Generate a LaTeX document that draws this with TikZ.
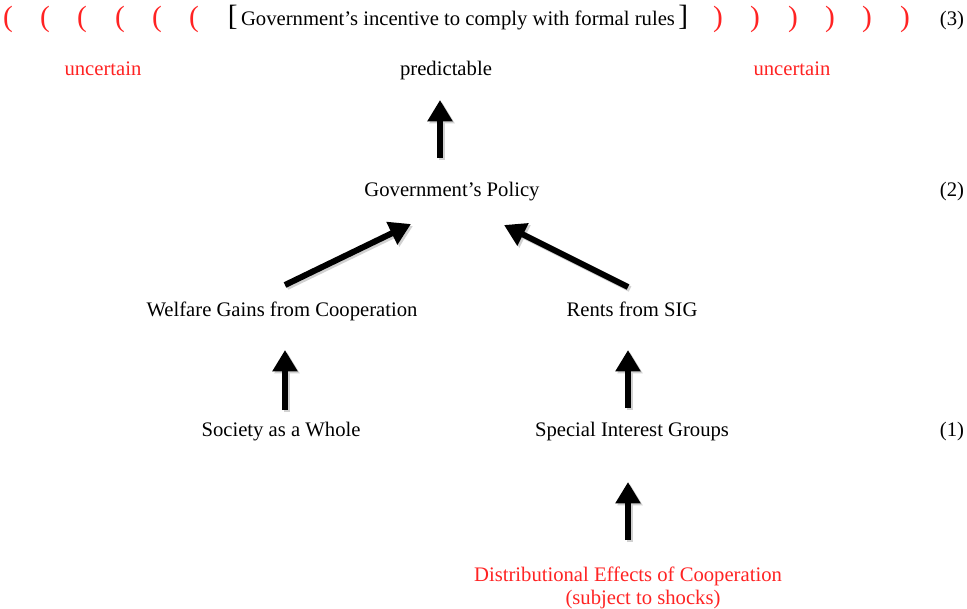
\documentclass[tikz,border=0pt]{standalone}
\usepackage{fontspec}
\setmainfont{Liberation Serif}
\usetikzlibrary{arrows.meta}
\definecolor{lblred}{RGB}{255,35,35}
\begin{document}
\begin{tikzpicture}[x=0.75pt,y=-0.75pt,
  lbl/.style={font=\fontsize{15.5}{18}\selectfont, inner sep=0pt, anchor=base},
  redlbl/.style={lbl, text=lblred},
  paren/.style={font=\fontsize{22}{24}\selectfont, text=lblred, inner sep=0pt, anchor=base},
  arr/.style={line width=4.5pt, -{Triangle[width=18pt,length=16pt]}},
  shade/.style={arr, draw=black!18, transform canvas={shift={(1.5pt,-1.5pt)}}}
]
\path[use as bounding box] (0,0) rectangle (967,608);

% top row
\foreach \i/\x in {1/8,2/45,3/82,4/120,5/157,6/194}
  \node[paren] (pl\i) at (\x,26) {(};
\foreach \i/\x in {1/718,2/755,3/793,4/830,5/867,6/905}
  \node[paren] (pr\i) at (\x,26) {)};
\node[lbl] (title) at (458,25) {{\fontsize{22}{24}\selectfont[}\,Government’s incentive to comply with formal rules\,{\fontsize{22}{24}\selectfont]}};
\node[lbl] (l3) at (952,25) {(3)};

\node[redlbl] (unl) at (103,75) {uncertain};
\node[lbl] (pred) at (446,75) {predictable};
\node[redlbl] (unr) at (792,75) {uncertain};

\node[lbl] (pol) at (452,196) {Government’s Policy};
\node[lbl] (l2) at (952,196) {(2)};

\node[lbl] (wel) at (282,316) {Welfare Gains from Cooperation};
\node[lbl] (rent) at (632,316) {Rents from SIG};

\node[lbl] (soc) at (281,436) {Society as a Whole};
\node[lbl] (sig) at (632,436) {Special Interest Groups};
\node[lbl] (l1) at (952,436) {(1)};

\node[redlbl] (dist) at (628,581) {Distributional Effects of Cooperation};
\node[redlbl] (shock) at (643,604) {(subject to shocks)};

% arrow end points
\coordinate (a1s) at (440,158); \coordinate (a1e) at (440,100);
\coordinate (a2s) at (285,285); \coordinate (a2e) at (411,224);
\coordinate (a3s) at (628,287); \coordinate (a3e) at (504,225);
\coordinate (a4s) at (285,410); \coordinate (a4e) at (285,350);
\coordinate (a5s) at (628,408); \coordinate (a5e) at (628,350);
\coordinate (a6s) at (628,540); \coordinate (a6e) at (628,482);

\foreach \a in {a1,a2,a3,a4,a5,a6}{
  \draw[shade] (\a s) -- (\a e);
  \draw[arr] (\a s) -- (\a e);
}
\end{tikzpicture}
\end{document}
